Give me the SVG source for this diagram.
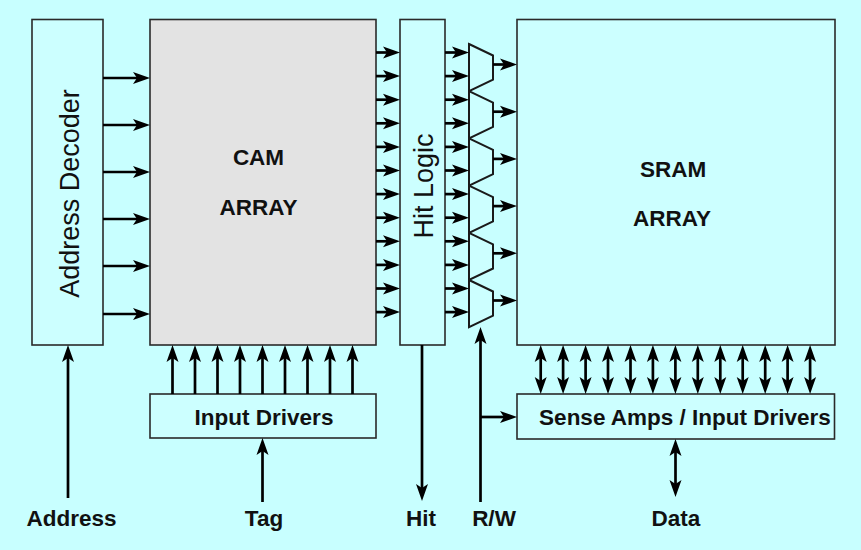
<svg xmlns="http://www.w3.org/2000/svg" width="861" height="550" viewBox="0 0 861 550">
<style>
.box{fill:#ccffff;stroke:#2a2a2a;stroke-width:1.6}
.cam{fill:#e3e3e3;stroke:#2a2a2a;stroke-width:1.6}
.mux{fill:#ccffff;stroke:#1a1a1a;stroke-width:2;stroke-linejoin:miter}
.w{stroke:#000;stroke-width:2.7;fill:none}
.a{marker-end:url(#ah)}
.d{marker-start:url(#ah);marker-end:url(#ah)}
.lb{font-family:"Liberation Sans",Arial,Helvetica,sans-serif;font-weight:bold;font-size:22.5px;fill:#111;text-anchor:middle}
.lr{font-family:"Liberation Sans",Arial,Helvetica,sans-serif;font-size:27px;fill:#111;text-anchor:middle}
</style>
<defs>
<marker id="ah" viewBox="-9 -7 19 14" refX="0" refY="0" markerWidth="19" markerHeight="14" markerUnits="userSpaceOnUse" orient="auto-start-reverse">
<path d="M9,0 L-8,-6 L-4,0 L-8,6 Z" fill="#000"/>
</marker>
</defs>
<rect x="0" y="0" width="861" height="550" fill="#c8ffff"/>

<g id="address-decoder">
<rect class="box" x="32" y="19.5" width="71" height="325.5"/>
<text class="lr" transform="translate(78.5,193.5) rotate(-90)">Address Decoder</text>
</g>
<g id="cam-array">
<rect class="cam" x="150" y="19.5" width="226" height="325.5"/>
<text class="lb" x="258.5" y="165">CAM</text>
<text class="lb" x="258.5" y="215">ARRAY</text>
</g>
<g id="hit-logic">
<rect class="box" x="400" y="19.5" width="45" height="325.5"/>
<text class="lr" transform="translate(432.5,186) rotate(-90)">Hit Logic</text>
</g>
<g id="muxes">
<polygon class="mux" points="469,44 493,55.5 493,79.7 469,91.2"/>
<polygon class="mux" points="469,91.2 493,102.7 493,126.9 469,138.4"/>
<polygon class="mux" points="469,138.4 493,149.9 493,174.1 469,185.6"/>
<polygon class="mux" points="469,185.6 493,197.1 493,221.3 469,232.8"/>
<polygon class="mux" points="469,232.8 493,244.3 493,268.5 469,280"/>
<polygon class="mux" points="469,280 493,291.5 493,315.7 469,327.2"/>
</g>
<g id="sram-array">
<rect class="box" x="517" y="19.5" width="318" height="325.5"/>
<text class="lb" x="673" y="177">SRAM</text>
<text class="lb" x="672" y="226">ARRAY</text>
</g>
<g id="input-drivers">
<rect class="box" x="150" y="394" width="226" height="44"/>
<text class="lb" x="264" y="425">Input Drivers</text>
</g>
<g id="sense-amps">
<rect class="box" x="517" y="394" width="317.5" height="45"/>
<text class="lb" x="685" y="424.5">Sense Amps / Input Drivers</text>
</g>
<g id="labels">
<text class="lb" x="71.5" y="526">Address</text>
<text class="lb" x="264" y="526">Tag</text>
<text class="lb" x="421" y="526">Hit</text>
<text class="lb" x="494" y="526">R/W</text>
<text class="lb" x="676" y="526">Data</text>
</g>

<g id="connectors" class="w">
<line class="a" x1="103" y1="78" x2="141" y2="78"/>
<line class="a" x1="103" y1="125" x2="141" y2="125"/>
<line class="a" x1="103" y1="172" x2="141" y2="172"/>
<line class="a" x1="103" y1="219" x2="141" y2="219"/>
<line class="a" x1="103" y1="266" x2="141" y2="266"/>
<line class="a" x1="103" y1="314" x2="141" y2="314"/>
<line class="a" x1="376" y1="52.5" x2="391" y2="52.5"/>
<line class="a" x1="376" y1="76.1" x2="391" y2="76.1"/>
<line class="a" x1="376" y1="99.7" x2="391" y2="99.7"/>
<line class="a" x1="376" y1="123.3" x2="391" y2="123.3"/>
<line class="a" x1="376" y1="146.9" x2="391" y2="146.9"/>
<line class="a" x1="376" y1="170.5" x2="391" y2="170.5"/>
<line class="a" x1="376" y1="194.1" x2="391" y2="194.1"/>
<line class="a" x1="376" y1="217.7" x2="391" y2="217.7"/>
<line class="a" x1="376" y1="241.3" x2="391" y2="241.3"/>
<line class="a" x1="376" y1="264.9" x2="391" y2="264.9"/>
<line class="a" x1="376" y1="288.5" x2="391" y2="288.5"/>
<line class="a" x1="376" y1="312.1" x2="391" y2="312.1"/>
<line class="a" x1="445" y1="52.5" x2="460" y2="52.5"/>
<line class="a" x1="445" y1="76.1" x2="460" y2="76.1"/>
<line class="a" x1="445" y1="99.7" x2="460" y2="99.7"/>
<line class="a" x1="445" y1="123.3" x2="460" y2="123.3"/>
<line class="a" x1="445" y1="146.9" x2="460" y2="146.9"/>
<line class="a" x1="445" y1="170.5" x2="460" y2="170.5"/>
<line class="a" x1="445" y1="194.1" x2="460" y2="194.1"/>
<line class="a" x1="445" y1="217.7" x2="460" y2="217.7"/>
<line class="a" x1="445" y1="241.3" x2="460" y2="241.3"/>
<line class="a" x1="445" y1="264.9" x2="460" y2="264.9"/>
<line class="a" x1="445" y1="288.5" x2="460" y2="288.5"/>
<line class="a" x1="445" y1="312.1" x2="460" y2="312.1"/>
<line class="a" x1="493" y1="64.5" x2="508" y2="64.5"/>
<line class="a" x1="493" y1="111.7" x2="508" y2="111.7"/>
<line class="a" x1="493" y1="158.9" x2="508" y2="158.9"/>
<line class="a" x1="493" y1="206.1" x2="508" y2="206.1"/>
<line class="a" x1="493" y1="253.3" x2="508" y2="253.3"/>
<line class="a" x1="493" y1="300.5" x2="508" y2="300.5"/>
<line class="a" x1="172.5" y1="394" x2="172.5" y2="354"/>
<line class="a" x1="195" y1="394" x2="195" y2="354"/>
<line class="a" x1="217.5" y1="394" x2="217.5" y2="354"/>
<line class="a" x1="240" y1="394" x2="240" y2="354"/>
<line class="a" x1="262.5" y1="394" x2="262.5" y2="354"/>
<line class="a" x1="285" y1="394" x2="285" y2="354"/>
<line class="a" x1="307.5" y1="394" x2="307.5" y2="354"/>
<line class="a" x1="330" y1="394" x2="330" y2="354"/>
<line class="a" x1="352.5" y1="394" x2="352.5" y2="354"/>
<line class="d" x1="540.7" y1="354" x2="540.7" y2="385"/>
<line class="d" x1="563.1" y1="354" x2="563.1" y2="385"/>
<line class="d" x1="585.6" y1="354" x2="585.6" y2="385"/>
<line class="d" x1="608" y1="354" x2="608" y2="385"/>
<line class="d" x1="630.5" y1="354" x2="630.5" y2="385"/>
<line class="d" x1="652.9" y1="354" x2="652.9" y2="385"/>
<line class="d" x1="675.4" y1="354" x2="675.4" y2="385"/>
<line class="d" x1="697.8" y1="354" x2="697.8" y2="385"/>
<line class="d" x1="720.3" y1="354" x2="720.3" y2="385"/>
<line class="d" x1="742.7" y1="354" x2="742.7" y2="385"/>
<line class="d" x1="765.2" y1="354" x2="765.2" y2="385"/>
<line class="d" x1="787.6" y1="354" x2="787.6" y2="385"/>
<line class="d" x1="810.1" y1="354" x2="810.1" y2="385"/>
<line class="a" x1="68" y1="498" x2="68" y2="354"/>
<line class="a" x1="262.5" y1="502" x2="262.5" y2="447"/>
<line class="a" x1="422" y1="345" x2="422" y2="492"/>
<line class="a" x1="480.5" y1="502" x2="480.5" y2="336"/>
<line class="a" x1="480.5" y1="417" x2="508" y2="417"/>
<line class="d" x1="675.5" y1="448" x2="675.5" y2="488"/>
</g>
</svg>
